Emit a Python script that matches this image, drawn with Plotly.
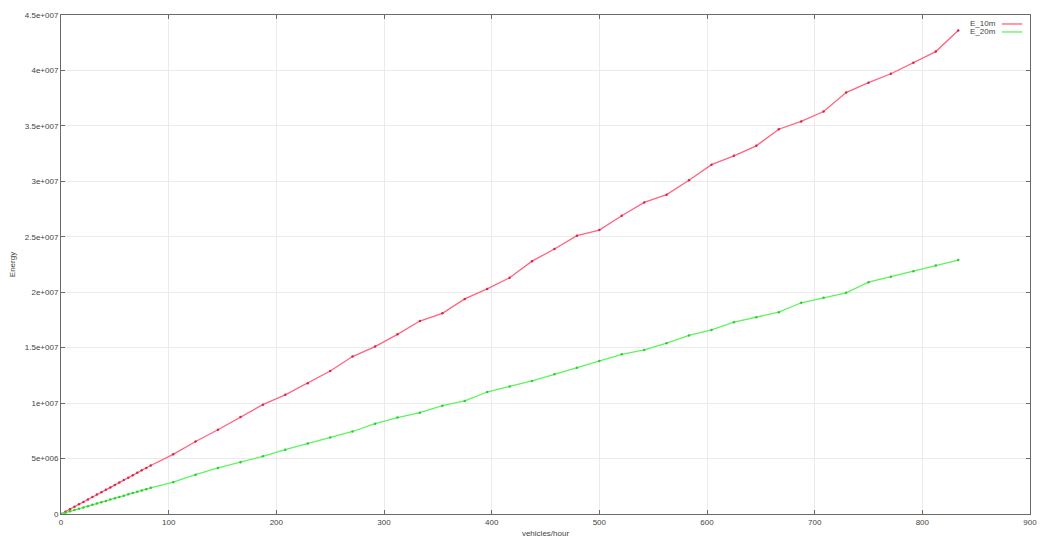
import plotly.graph_objects as go

# Traffic flow (vehicles/hour): fine steps at low flow, coarser steps above 100
flow_fine = [4.17, 8.33, 12.5, 16.67, 20.83, 25.0, 29.17, 33.33, 37.5, 41.67,
             45.83, 50.0, 54.17, 58.33, 62.5, 66.67, 70.83, 75.0, 79.17, 83.33]
flow_coarse = [104.2, 125.0, 145.8, 166.7, 187.5, 208.3, 229.2, 250.0, 270.8, 291.7,
               312.5, 333.3, 354.2, 375.0, 395.8, 416.7, 437.5, 458.3, 479.2, 500.0,
               520.8, 541.7, 562.5, 583.3, 604.2, 625.0, 645.8, 666.7, 687.5, 708.3,
               729.2, 750.0, 770.8, 791.7, 812.5, 833.3]
vehicles_per_hour = flow_fine + flow_coarse

# Energy for 10 m spacing
energy_10m_fine = [0.21e6, 0.43e6, 0.65e6, 0.87e6, 1.09e6, 1.31e6, 1.53e6, 1.75e6, 1.96e6, 2.18e6,
                   2.40e6, 2.62e6, 2.84e6, 3.06e6, 3.28e6, 3.50e6, 3.72e6, 3.94e6, 4.15e6, 4.37e6]
energy_10m_coarse = [5.38e6, 6.54e6, 7.60e6, 8.75e6, 9.86e6, 10.75e6, 11.8e6, 12.9e6, 14.2e6, 15.1e6,
                     16.2e6, 17.4e6, 18.1e6, 19.4e6, 20.3e6, 21.3e6, 22.8e6, 23.9e6, 25.1e6, 25.6e6,
                     26.9e6, 28.1e6, 28.8e6, 30.1e6, 31.5e6, 32.3e6, 33.2e6, 34.7e6, 35.4e6, 36.3e6,
                     38.0e6, 38.9e6, 39.7e6, 40.7e6, 41.7e6, 43.6e6]
energy_10m = energy_10m_fine + energy_10m_coarse

# Energy for 20 m spacing
energy_20m_fine = [0.12e6, 0.24e6, 0.36e6, 0.47e6, 0.59e6, 0.71e6, 0.83e6, 0.95e6, 1.06e6, 1.18e6,
                   1.30e6, 1.42e6, 1.54e6, 1.65e6, 1.77e6, 1.89e6, 2.01e6, 2.13e6, 2.24e6, 2.36e6]
energy_20m_coarse = [2.87e6, 3.55e6, 4.15e6, 4.66e6, 5.2e6, 5.8e6, 6.36e6, 6.9e6, 7.44e6, 8.15e6,
                     8.7e6, 9.14e6, 9.77e6, 10.2e6, 11.0e6, 11.5e6, 12.0e6, 12.6e6, 13.2e6, 13.8e6,
                     14.4e6, 14.8e6, 15.4e6, 16.1e6, 16.6e6, 17.3e6, 17.75e6, 18.2e6, 19.05e6, 19.5e6,
                     19.95e6, 20.9e6, 21.4e6, 21.9e6, 22.4e6, 22.9e6]
energy_20m = energy_20m_fine + energy_20m_coarse

x_ticks = [0, 100, 200, 300, 400, 500, 600, 700, 800, 900]
y_ticks = [0, 5e6, 1e7, 1.5e7, 2e7, 2.5e7, 3e7, 3.5e7, 4e7, 4.5e7]
y_tick_labels = ["0", "5e+006", "1e+007", "1.5e+007", "2e+007", "2.5e+007",
                 "3e+007", "3.5e+007", "4e+007", "4.5e+007"]

series_names = ["E_10m", "E_20m"]
series_colors = ["#ff6480", "#5cf55c"]
marker_colors = ["#d8284a", "#34c834"]

fig = go.Figure()
for name, ys, col, mcol in zip(series_names, [energy_10m, energy_20m], series_colors, marker_colors):
    fig.add_trace(go.Scatter(
        x=[0] + vehicles_per_hour, y=[0] + ys, name=name, mode="lines+markers",
        line=dict(color=col, width=1.3),
        marker=dict(symbol="circle", size=2.5, color=mcol, line=dict(width=0)),
        showlegend=False,
    ))

axis_common = dict(
    showline=True, linecolor="#6a6a6a", linewidth=1, mirror="ticks",
    ticks="inside", ticklen=4, tickcolor="#6a6a6a",
    showgrid=True, gridcolor="#ebebeb", gridwidth=1, zeroline=False,
    tickfont=dict(size=8, color="#444"),
)

fig.update_layout(
    width=1044, height=543,
    margin=dict(l=61, r=7, t=15, b=26),
    paper_bgcolor="white", plot_bgcolor="white",
    font=dict(family="Liberation Sans, Arial, sans-serif", size=8, color="#444"),
    xaxis=dict(range=[0, 900], tickvals=x_ticks,
               title=dict(text="vehicles/hour", font=dict(size=8), standoff=4),
               **axis_common),
    yaxis=dict(range=[0, 4.5e7], tickvals=y_ticks, ticktext=y_tick_labels,
               title=dict(text="Energy", font=dict(size=8), standoff=8),
               **axis_common),
)

# Key in the top-right corner, text to the left of the line sample
key_rows = [0.982, 0.966]
for name, col, yk in zip(series_names, series_colors, key_rows):
    fig.add_annotation(x=0.967, y=yk, xref="paper", yref="paper", text=name,
                       showarrow=False, xanchor="right", yanchor="middle",
                       font=dict(size=8, color="#444"))
    fig.add_shape(type="line", xref="paper", yref="paper",
                  x0=0.971, x1=0.992, y0=yk, y1=yk, line=dict(color=col, width=1.3))

fig.write_html("out.html")
